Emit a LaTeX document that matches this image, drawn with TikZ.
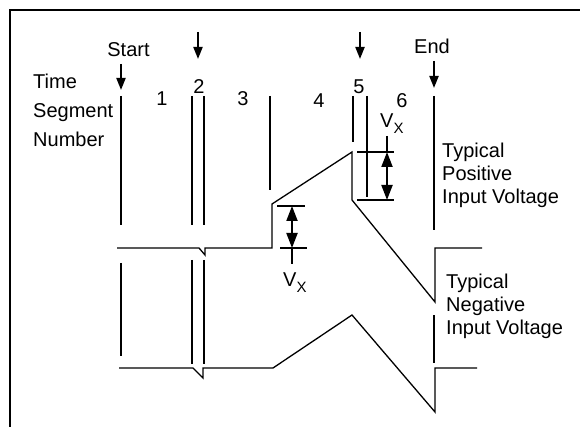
\documentclass[tikz,border=0pt]{standalone}
\usepackage{fontspec}
\setmainfont{Liberation Sans}
\usetikzlibrary{arrows.meta}
\tikzset{
  lbl/.style={font=\fontsize{20}{23}\selectfont,inner sep=0pt},
  frame/.style={line width=2pt},
  seg/.style={line width=2pt},
  wave/.style={line width=1.3pt,line join=miter},
  tick/.style={line width=2pt},
  droparr/.style={-{Triangle[length=12pt,width=9pt]},line width=2pt},
  dimarr/.style={{Triangle[length=15pt,width=11pt]}-{Triangle[length=15pt,width=11pt]},line width=2pt}
}
\newcommand{\vxlabel}{V\raisebox{-6pt}{\fontsize{15}{15}\selectfont X}}

\begin{document}
\begin{tikzpicture}[x=1pt,y=-1pt]
  \useasboundingbox (0,0) rectangle (580,427);
  \draw[frame] (580,10) -- (10,10) -- (10,427);

  % labels (base = last line)
  \node[lbl,anchor=base west,align=left] (tsn) at (33,147) {Time\\[6pt]Segment\\[6pt]Number};
  \node[lbl] (start) at (128.5,50) {Start};
  \node[lbl] (stop) at (432,46) {End};
  \foreach \n/\x/\y in {1/162/99,2/199/87,3/243/99,4/319/101,5/359/87,6/402/101}
    \node[lbl] (n\n) at (\x,\y) {\n};

  % marker arrows
  \foreach \i/\x/\t/\b in {st/121/64/90,two/198/32/59,five/360/32/59,en/434/61/88}{
    \coordinate (\i top) at (\x,\t);
    \coordinate (\i tip) at (\x,\b);
    \draw[droparr] (\i top) -- (\i tip);
  }

  % segment boundaries
  \foreach \x/\a/\b in {121/96/225,192/96/225,204/96/225,270/96/190,353/96/142,367/96/197,434/96/230,
                        121/263/356,192/260/364,204/260/364,434/315/363}
    \draw[seg] (\x,\a) -- (\x,\b);

  % waveforms
  \draw[wave] (117,248) -- (199,248) -- (205,255) -- (205,248) -- (272,248) -- (272,204)
    -- (352,152) -- (352,200) -- (435,302) -- (435,248) -- (482,248);
  \draw[wave] (119,368) -- (193,368) -- (203,378) -- (203,368) -- (273,368)
    -- (352,315) -- (435,412) -- (435,368) -- (477,368);

  % Vx dimensions
  \draw[tick] (357,152) -- (394,152);
  \draw[tick] (357,200) -- (394,200);
  \draw[seg] (387,136) -- (387,152);
  \draw[dimarr] (387,152) -- (387,200);
  \node[lbl,anchor=base west] (vxtop) at (380,128) {\vxlabel};

  \draw[tick] (277,206) -- (305,206);
  \draw[tick] (280,248) -- (307,248);
  \draw[dimarr] (292,206) -- (292,248);
  \draw[seg] (292,248) -- (292,264);
  \node[lbl,anchor=base west] (vxbot) at (283,286) {\vxlabel};

  \node[lbl,anchor=base west,align=left] (pos) at (442,204) {Typical\\Positive\\Input Voltage};
  \node[lbl,anchor=base west,align=left] (neg) at (446,334) {Typical\\Negative\\Input Voltage};
\end{tikzpicture}
\end{document}
